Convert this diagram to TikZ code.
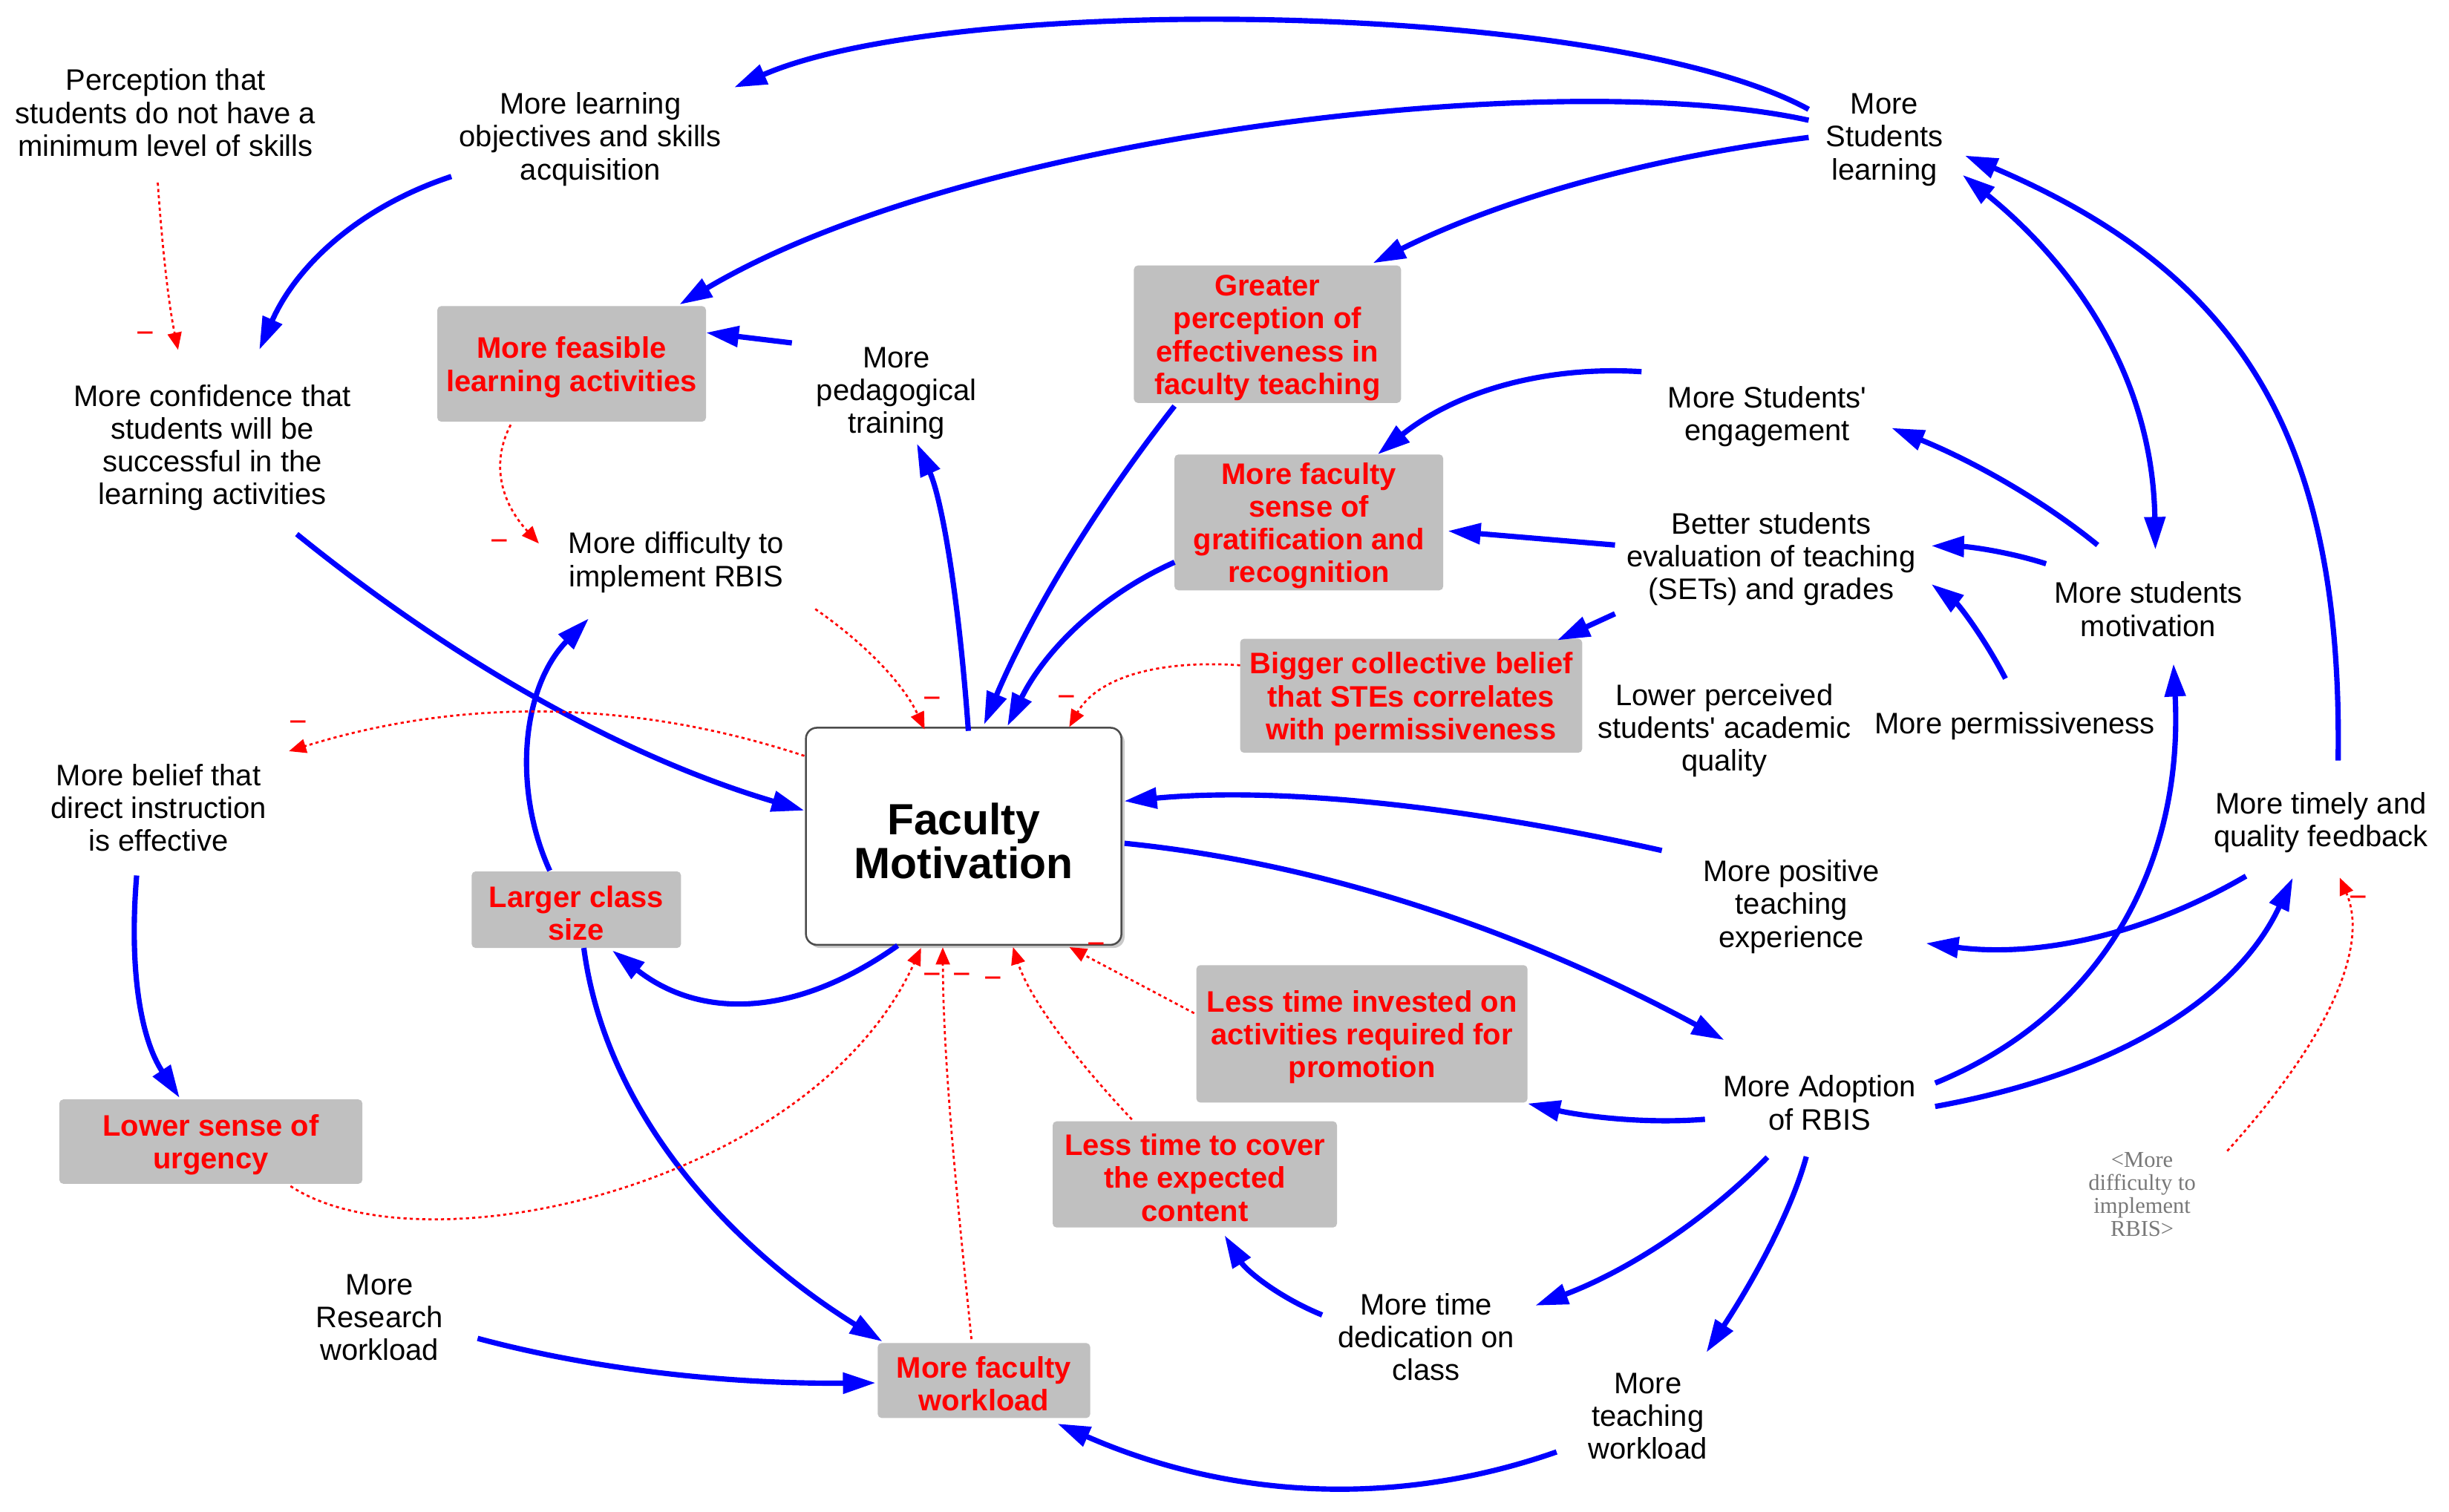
\documentclass[tikz,border=0pt]{standalone}
\usepackage{fontspec}
\setmainfont{Liberation Sans}
\newfontfamily\ghostfont{Liberation Serif}
\usetikzlibrary{arrows.meta,shadows}
\definecolor{bblue}{RGB}{0,0,255}
\definecolor{rred}{RGB}{255,0,0}
\definecolor{boxgray}{RGB}{192,192,192}
\definecolor{ghostgray}{RGB}{120,120,120}
\newcommand\myup{\rule{0pt}{18pt}}
\newcommand\myupbig{\rule{0pt}{26pt}}
\begin{document}
\begin{tikzpicture}[x=1pt,y=-1pt,
  lbl/.style={align=center,inner sep=0pt,font=\fontsize{19}{21}\selectfont},
  gbox/.style={fill=boxgray,rounded corners=2.5pt,align=center,inner sep=0pt,text=rred,font=\fontsize{19}{21}\selectfont\bfseries},
  posl/.style={draw=bblue,line width=3.4pt,-{Triangle[length=21pt,width=13pt]}},
  posboth/.style={draw=bblue,line width=3.4pt,{Triangle[length=21pt,width=13pt]}-{Triangle[length=21pt,width=13pt]}},
  negl/.style={draw=rred,line width=1.3pt,dash pattern=on 2pt off 2pt,-{Triangle[length=11pt,width=9pt]}},
  pol/.style={text=rred,inner sep=0pt,font=\fontsize{20}{20}\selectfont},
]
\fill[white] (0,0) rectangle (1568,968);
\useasboundingbox (0,0) rectangle (1568,968);

% ---------- plain variables ----------
\node[lbl] (perc) at (106,70) {\myup Perception that\\students do not have a\\minimum level of skills};
\node[lbl] (lobj) at (378,87) {\myup More learning\\objectives and skills\\acquisition};
\node[lbl] (slearn) at (1206.5,87) {\myup More\\Students\\learning};
\node[lbl] (conf) at (136,284.5) {\myup More confidence that\\students will be\\successful in the\\learning activities};
\node[lbl] (ped) at (574,249.5) {\myup More\\pedagogical\\training};
\node[lbl] (eng) at (1131.5,264.5) {\myup More Students\textquotesingle\\engagement};
\node[lbl] (diff) at (433,358) {\myup More difficulty to\\implement RBIS};
\node[lbl] (sets) at (1134,356) {\myup Better students\\evaluation of teaching\\(SETs) and grades};
\node[lbl] (smot) at (1375.5,388) {\myup More students\\motivation};
\node[lbl] (lpq) at (1104,465.5) {\myup Lower perceived\\students\textquotesingle{} academic\\quality};
\node[lbl] (perm) at (1290,463) {\myup More permissiveness};
\node[lbl] (belief) at (101.5,515) {\myup More belief that\\direct instruction\\is effective};
\node[lbl] (feed) at (1486,524.5) {\myup More timely and\\quality feedback};
\node[lbl] (pte) at (1147,578.5) {\myup More positive\\teaching\\experience};
\node[lbl] (adopt) at (1165,704) {\myup More Adoption\\of RBIS};
\node[lbl] (resw) at (243,841) {\myup More\\Research\\workload};
\node[lbl] (tded) at (913,854) {\myup More time\\dedication on\\class};
\node[lbl] (tw) at (1055,904.5) {\myup More\\teaching\\workload};
\node[align=center,inner sep=0pt,text=ghostgray,font=\ghostfont\fontsize{14.5}{14.7}\selectfont] (ghost) at (1371.5,765) {<More\\difficulty to\\implement\\RBIS>};

% ---------- gray boxes ----------
\node[gbox,minimum width=172pt,minimum height=74pt] (feas) at (366,233) {\myup More feasible\\learning activities};
\node[gbox,minimum width=171pt,minimum height=88pt] (gpe) at (811.5,214) {\myup Greater\\perception of\\effectiveness in\\faculty teaching};
\node[gbox,minimum width=172pt,minimum height=87pt] (gsr) at (838,334.5) {\myup More faculty\\sense of\\gratification and\\recognition};
\node[gbox,minimum width=219pt,minimum height=73pt] (bcb) at (903.5,445.5) {\myup Bigger collective belief\\that STEs correlates\\with permissiveness};
\node[gbox,minimum width=134pt,minimum height=49pt] (lcs) at (369,582.5) {\myup Larger class\\size};
\node[gbox,minimum width=194pt,minimum height=54pt] (lsu) at (135,731) {\myup Lower sense of\\urgency};
\node[gbox,minimum width=212pt,minimum height=88pt] (ltp) at (872,662) {\myup Less time invested on\\activities required for\\promotion};
\node[gbox,minimum width=182pt,minimum height=68pt] (ltc) at (765,752) {\myup Less time to cover\\the expected\\content};
\node[gbox,minimum width=136pt,minimum height=48pt] (mfw) at (630,884) {\myup More faculty\\workload};

% ---------- central box ----------
\node[draw=black!70,line width=1.2pt,fill=white,rounded corners=7pt,
  drop shadow={shadow xshift=2pt,shadow yshift=-2pt,fill=black!35,opacity=0.6},
  minimum width=202pt,minimum height=139pt,align=center,inner sep=0pt,
  font=\fontsize{28}{28}\selectfont\bfseries] (fm) at (617,535.5) {\myupbig Faculty\\Motivation};

% ---------- positive (blue) links ----------
\draw[posl] ([shift={(-48.5,-17)}]slearn.center) .. controls (1030,0) and (610,-5) .. ([shift={(92,-31)}]lobj.center);
\draw[posl] ([shift={(-48.5,-10)}]slearn.center) .. controls (1000,42) and (620,85) .. ([shift={(69,-38)}]feas.center);
\draw[posl] ([shift={(-48.5,1)}]slearn.center) .. controls (1052.7,101.3) and (959.7,128.2) .. ([shift={(67.5,-45.5)}]gpe.center);
\draw[posl] ([shift={(-89,26)}]lobj.center) .. controls (231.3,132) and (190.3,169) .. ([shift={(30,-60.5)}]conf.center);
\draw[posl] ([shift={(-67,-29.9)}]ped.center) -- ([shift={(86,-20)}]feas.center);
\draw[posl] ([shift={(3,-67.5)}]fm.center) .. controls (613.7,380) and (602.7,318.7) .. ([shift={(13,34.5)}]ped.center);
\draw[posl] ([shift={(54,57.5)}]conf.center) .. controls (295,427) and (403.3,486) .. ([shift={(-102,-16.5)}]fm.center);
\draw[posl] ([shift={(-59.5,46)}]gpe.center) .. controls (700.7,325.3) and (660,393.3) .. ([shift={(13,-71.5)}]fm.center);
\draw[posl] ([shift={(-86,25.5)}]gsr.center) .. controls (705,381) and (669.3,416) .. ([shift={(28,-70.5)}]fm.center);
\draw[posl] ([shift={(-80.5,-26.5)}]eng.center) .. controls (987,234) and (930.7,251.7) .. ([shift={(44,-43.5)}]gsr.center);
\draw[posl] ([shift={(-100,-7)}]sets.center) -- ([shift={(89,5.5)}]gsr.center);
\draw[posl] ([shift={(-100,37)}]sets.center) -- ([shift={(93.5,-35.5)}]bcb.center);
\draw[posl] ([shift={(-32.5,-39)}]smot.center) .. controls (1308.3,320.7) and (1264.3,295.7) .. ([shift={(79.5,9.5)}]eng.center);
\draw[posl] ([shift={(-65.5,-27)}]smot.center) .. controls (1285,353) and (1260,350) .. ([shift={(102.5,-6.5)}]sets.center);
\draw[posl] ([shift={(-6,-28.5)}]perm.center) .. controls (1269.8,407.3) and (1254,387.2) .. ([shift={(102.5,18)}]sets.center);
\draw[posboth] ([shift={(50,25)}]slearn.center) .. controls (1316,160) and (1378,230) .. ([shift={(4.5,-36)}]smot.center);
\draw[posl] ([shift={(11,-37.5)}]feed.center) .. controls (1500,280) and (1435,175) .. ([shift={(51.5,12.6)}]slearn.center);
\draw[posl] ([shift={(74,-10.5)}]adopt.center) .. controls (1349,648.5) and (1398,550) .. ([shift={(16.1,37)}]smot.center);
\draw[posl] ([shift={(74,4.5)}]adopt.center) .. controls (1356,687.3) and (1432.3,638.5) .. ([shift={(-18,37.5)}]feed.center);
\draw[posl] ([shift={(-48,36.5)}]feed.center) .. controls (1372.7,599) and (1304.3,613.3) .. ([shift={(86,25.5)}]pte.center);
\draw[posl] ([shift={(-83,-33.9)}]pte.center) .. controls (930,514.6) and (815.2,504) .. ([shift={(102.7,-22.5)}]fm.center);
\draw[posl] ([shift={(103,4.5)}]fm.center) .. controls (843.3,552.3) and (971.3,594.3) .. ([shift={(-61,-38)}]adopt.center);
\draw[posl] ([shift={(-73.4,12.7)}]adopt.center) .. controls (1050,720) and (1010,714) .. ([shift={(106,44.6)}]ltp.center);
\draw[posl] ([shift={(-33.4,37)}]adopt.center) .. controls (1091,782.3) and (1041.5,814) .. ([shift={(70,-18)}]tded.center);
\draw[posl] ([shift={(-8.5,36.6)}]adopt.center) .. controls (1147.8,772.3) and (1126.5,814) .. ([shift={(37.5,-38.5)}]tw.center);
\draw[posl] ([shift={(-66.5,-12)}]tded.center) .. controls (818.8,830.7) and (798,813.7) .. ([shift={(19,39)}]ltc.center);
\draw[posl] ([shift={(-58.4,25.2)}]tw.center) .. controls (894.3,965.5) and (787.8,960.1) .. ([shift={(47,27.6)}]mfw.center);
\draw[posl] ([shift={(62.8,16)}]resw.center) .. controls (379.5,876.8) and (464.5,886.3) .. ([shift={(-69.3,1.5)}]mfw.center);
\draw[posl] ([shift={(4.8,24.5)}]lcs.center) .. controls (388,715) and (470,800) .. ([shift={(-65,-25)}]mfw.center);
\draw[posl] ([shift={(-42.3,70)}]fm.center) .. controls (509.3,651.8) and (448.4,652.9) .. ([shift={(23,26.1)}]lcs.center);
\draw[posl] ([shift={(-17,-25)}]lcs.center) .. controls (328,505) and (334,440) .. ([shift={(-56,38)}]diff.center);
\draw[posl] ([shift={(-14,45.6)}]belief.center) .. controls (82.5,620.6) and (90,665) .. ([shift={(-20,-28)}]lsu.center);

% ---------- negative (red dotted) links ----------
\draw[negl] ([shift={(-5,47)}]perc.center) .. controls (104,160) and (108,195) .. ([shift={(-22,-60.5)}]conf.center);
\draw[negl] ([shift={(-39,39)}]feas.center) .. controls (314.3,296) and (320.3,321.3) .. ([shift={(-88,-10)}]diff.center);
\draw[negl] ([shift={(89,32)}]diff.center) .. controls (555.6,413.3) and (578.9,438.9) .. ([shift={(-25,-68.5)}]fm.center);
\draw[negl] ([shift={(-109.5,-19.5)}]bcb.center) .. controls (738,422.2) and (701.6,435.3) .. ([shift={(67.6,-70)}]fm.center);
\draw[negl] ([shift={(-102,-51.5)}]fm.center) .. controls (405,447.7) and (295,446.7) .. ([shift={(83.5,-34)}]belief.center);
\draw[negl] ([shift={(51,28.5)}]lsu.center) .. controls (270,815) and (520,760) .. ([shift={(-27.3,71.5)}]fm.center);
\draw[negl] ([shift={(-8,-26.5)}]mfw.center) .. controls (612,760) and (604,680) .. ([shift={(-13.4,71.1)}]fm.center);
\draw[negl] ([shift={(-40.3,-35.2)}]ltc.center) .. controls (683.4,673) and (658,636.3) .. ([shift={(31.6,71)}]fm.center);
\draw[negl] ([shift={(-107.4,-13.2)}]ltp.center) -- ([shift={(67.7,71)}]fm.center);
\draw[negl] ([shift={(54.5,-28)}]ghost.center) .. controls (1492.7,663.3) and (1516.7,605) .. ([shift={(12,37.5)}]feed.center);

% ---------- polarity signs ----------
\node[pol] (m1) at (93,216) {−};
\node[pol] (m2) at (320,349) {−};
\node[pol] (m3) at (597,450) {−};
\node[pol] (m4) at (683,449) {−};
\node[pol] (m5) at (191,465) {−};
\node[pol] (m6) at (597,627) {−};
\node[pol] (m7) at (616,627) {−};
\node[pol] (m8) at (636,629.4) {−};
\node[pol] (m9) at (702,607.5) {−};
\node[pol] (m10) at (1510,577.6) {−};
\end{tikzpicture}
\end{document}
